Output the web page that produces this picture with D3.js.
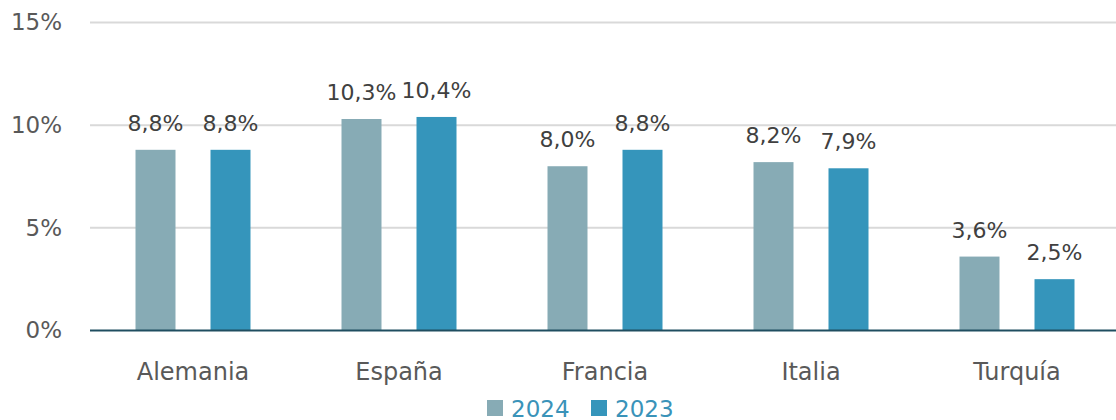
<!doctype html>
<html>
<head>
  <meta charset="utf-8">
  <title>Bar chart</title>
  <style>
    body { margin: 0; background: #fff; }
    svg { display: block; font-family: "DejaVu Sans", sans-serif; }
  </style>
</head>
<body>
  <div id="vis"></div>
  <script src="https://cdn.jsdelivr.net/npm/d3@7"></script>
  <script>
    var categories = ["Alemania", "España", "Francia", "Italia", "Turquía"];
    var seriesNames = ["2024", "2023"];
    var values2024 = [8.8, 10.3, 8.0, 8.2, 3.6];
    var values2023 = [8.8, 10.4, 8.8, 7.9, 2.5];
    var yTicks = [0, 5, 10, 15];
    var colors = ["#87abb5", "#3595bb"];

    var w = 1116, h = 420;
    var plotLeft = 90, plotRight = 1120, plotTop = 22.5, plotBottom = 330.5;

    var svg = d3.select("#vis").append("svg")
      .attr("width", w)
      .attr("height", h);

    var x0 = d3.scaleBand()
      .domain(categories)
      .range([plotLeft, plotRight]);

    var x1 = d3.scaleBand()
      .domain(seriesNames)
      .range([45.5, 160.5])
      .paddingInner(35 / 75);

    var y = d3.scaleLinear()
      .domain([0, 15])
      .range([plotBottom, plotTop]);

    // gridlines
    svg.append("g")
      .selectAll("line")
      .data(yTicks.filter(function(d){ return d > 0; }))
      .enter()
      .append("line")
      .attr("x1", plotLeft)
      .attr("x2", w)
      .attr("y1", function(d){ return y(d); })
      .attr("y2", function(d){ return y(d); })
      .attr("stroke", "#d9d9d9")
      .attr("stroke-width", 2);

    // y axis labels
    var yAxis = svg.append("g")
      .attr("transform", "translate(" + plotLeft + ",0)")
      .call(d3.axisLeft(y).tickValues(yTicks).tickSize(0).tickPadding(28)
        .tickFormat(function(d){ return d + "%"; }));
    yAxis.select(".domain").remove();
    yAxis.selectAll("text")
      .attr("fill", "#595959")
      .style("font-size", "23px")
      .style("font-family", "DejaVu Sans");

    var rows = categories.map(function(c, i){
      return { cat: c, vals: [values2024[i], values2023[i]] };
    });

    var groups = svg.append("g")
      .selectAll("g")
      .data(rows)
      .enter()
      .append("g")
      .attr("transform", function(d){ return "translate(" + x0(d.cat) + ",0)"; });

    var bars = groups.selectAll("g")
      .data(function(d){
        return d.vals.map(function(v, j){ return { s: seriesNames[j], v: v, j: j }; });
      })
      .enter()
      .append("g");

    bars.append("rect")
      .attr("x", function(d){ return x1(d.s); })
      .attr("y", function(d){ return y(d.v); })
      .attr("width", x1.bandwidth())
      .attr("height", function(d){ return y(0) - y(d.v); })
      .attr("fill", function(d){ return colors[d.j]; });

    bars.append("text")
      .attr("x", function(d){ return x1(d.s) + x1.bandwidth() / 2; })
      .attr("y", function(d){ return y(d.v) - 19; })
      .attr("text-anchor", "middle")
      .attr("fill", "#404040")
      .style("font-size", "22px")
      .text(function(d){ return d.v.toFixed(1).replace(".", ",") + "%"; });

    // baseline + category labels
    var xAxis = svg.append("g")
      .attr("transform", "translate(0," + plotBottom + ")")
      .call(d3.axisBottom(x0).tickSize(0).tickPadding(32));
    xAxis.select(".domain").remove();
    xAxis.selectAll("text")
      .attr("fill", "#595959")
      .style("font-size", "24px")
      .style("font-family", "DejaVu Sans");

    svg.append("line")
      .attr("x1", plotLeft)
      .attr("x2", w)
      .attr("y1", y(0))
      .attr("y2", y(0))
      .attr("stroke", "#1f4e60")
      .attr("stroke-width", 2);

    // legend
    var legend = svg.append("g")
      .selectAll("g")
      .data(seriesNames)
      .enter()
      .append("g")
      .attr("transform", function(d, i){ return "translate(" + (487 + i * 104) + ",400)"; });

    legend.append("rect")
      .attr("width", 16)
      .attr("height", 16)
      .attr("fill", function(d, i){ return colors[i]; });

    legend.append("text")
      .attr("x", 24)
      .attr("y", 16.5)
      .attr("fill", "#3a93b9")
      .style("font-size", "23px")
      .text(function(d){ return d; });
  </script>
</body>
</html>
